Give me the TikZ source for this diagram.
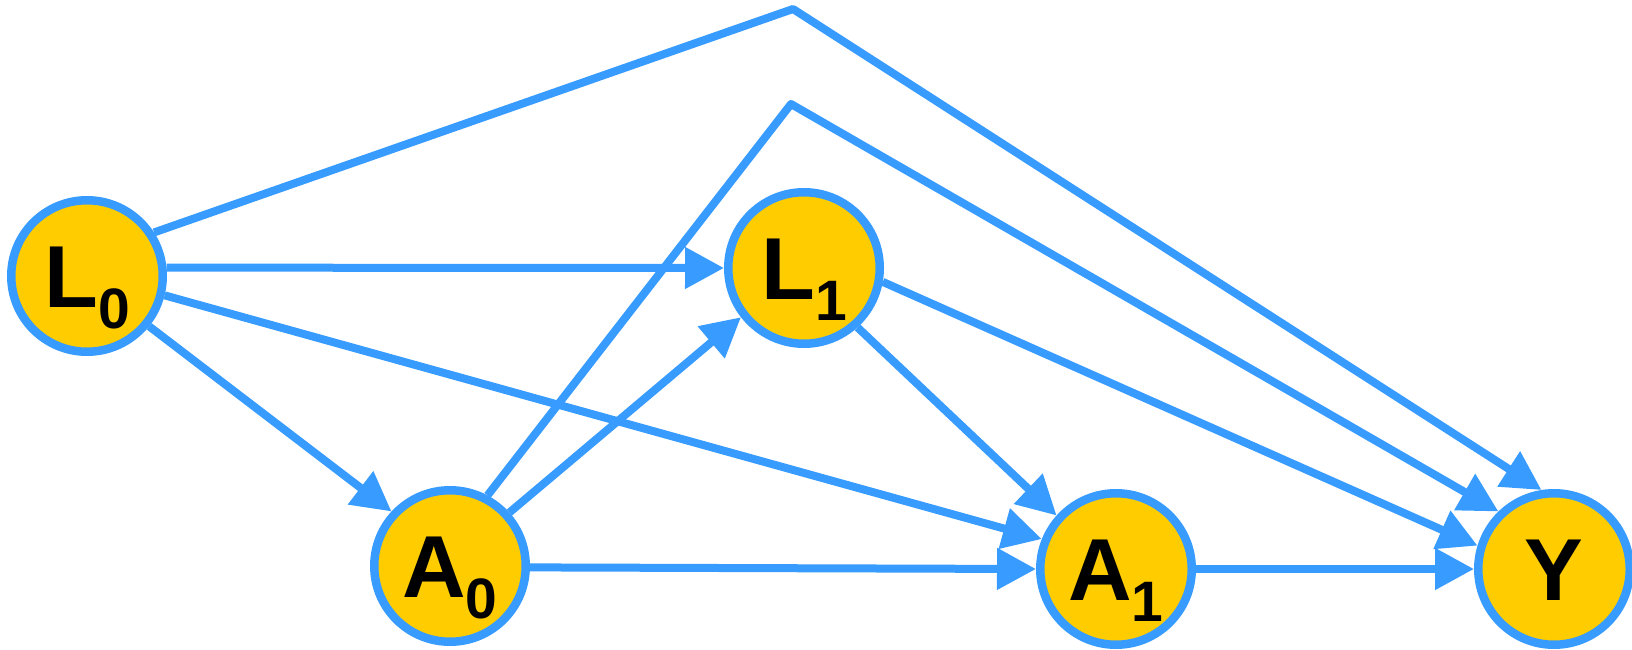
\documentclass[tikz,border=0pt]{standalone}
\usepackage{fontspec}
\setmainfont{Liberation Sans}
\usetikzlibrary{arrows.meta}
\definecolor{edgeblue}{RGB}{55,155,255}
\definecolor{nodegold}{RGB}{255,204,0}
% variable name with a lowered index
\newcommand{\varlabel}[2]{#1\raisebox{-21pt}{\fontsize{57pt}{57pt}\selectfont #2}}

\begin{document}
\begin{tikzpicture}[x=1pt,y=-1pt,
  var/.style={circle, draw=edgeblue, fill=nodegold, line width=8.5pt,
    minimum size=151.5pt, inner sep=0pt,
    font=\fontsize{88pt}{88pt}\selectfont\bfseries,
    text height=63pt, text depth=0pt},
  arc/.style={draw=edgeblue, line width=8pt, line join=round,
    -{Triangle[length=39pt,width=40pt]}}]
\useasboundingbox (0,0) rectangle (1632,650);

% variables
\node[var] (L0) at (87,276)   {\varlabel{L}{0}};
\node[var] (A0) at (450,566)  {\varlabel{A}{0}};
\node[var] (L1) at (804,268)  {\varlabel{L}{1}};
\node[var] (A1) at (1116,569) {\varlabel{A}{1}};
\node[var] (Y)  at (1554,569) {Y};

% bends of the two long paths
\coordinate (bendA) at (793,9);
\coordinate (bendB) at (791,104);

% effects
\draw[arc] (L0.33) -- (bendA) -- (Y.99);
\draw[arc] (A0.62) -- (bendB) -- (Y.134);
\draw[arc] (L0.6) -- (L1.180);
\draw[arc] (L0.-14) -- (A1.158.6);
\draw[arc] (L0.-39) -- (A0.137.6);
\draw[arc] (A0.42) -- (L1.218);
\draw[arc] (A0.-1.5) -- (A1.180);
\draw[arc] (L1.-48.7) -- (A1.138.5);
\draw[arc] (L1.-10.7) -- (Y.163);
\draw[arc] (A1.0) -- (Y.180);
\end{tikzpicture}
\end{document}
